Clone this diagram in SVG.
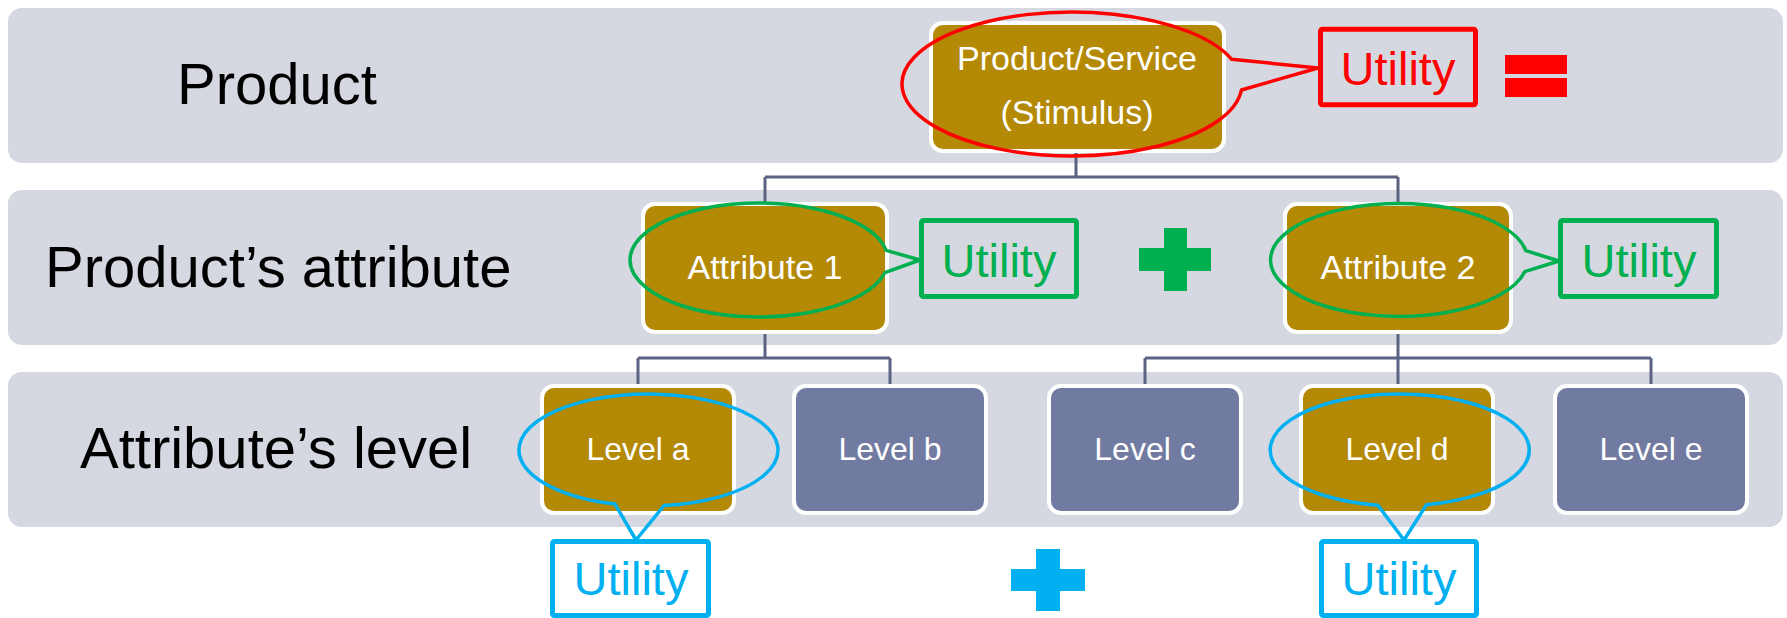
<svg xmlns="http://www.w3.org/2000/svg" width="1787" height="618" viewBox="0 0 1787 618">
  <style>
    .band { fill: #d5d8e1; }
    .rowlabel { font-family: "Liberation Sans", Arial, sans-serif; font-size: 58px; fill: #000; }
    .gold { fill: #b38905; stroke: #fff; stroke-width: 4; }
    .slate { fill: #717aa0; stroke: #fff; stroke-width: 4; }
    .ntext { font-family: "Liberation Sans", Arial, sans-serif; fill: #fff; text-anchor: middle; }
    .big { font-size: 34px; }
    .lvl { font-size: 32px; }
    .conn { fill: none; stroke: #5b6282; stroke-width: 3; }
    .util { font-family: "Liberation Sans", Arial, sans-serif; font-size: 47px; text-anchor: middle; }
    .box { fill: none; stroke-width: 5; stroke-linejoin: round; }
    .callout { fill: none; stroke-width: 3.5; stroke-linejoin: round; }
    .red { stroke: #ff0000; }
    .green { stroke: #00b050; }
    .blue { stroke: #00b0f0; }
  </style>

  <!-- background rows -->
  <g id="rows">
    <rect class="band" x="8" y="8" width="1775" height="155" rx="14"/>
    <rect class="band" x="8" y="190" width="1775" height="155" rx="14"/>
    <rect class="band" x="8" y="372" width="1775" height="155" rx="14"/>
    <text class="rowlabel" x="177" y="104">Product</text>
    <text class="rowlabel" x="45" y="287">Product’s attribute</text>
    <text class="rowlabel" x="80" y="468">Attribute’s level</text>
  </g>

  <!-- tree connectors -->
  <g id="connectors">
    <path class="conn" d="M1076 152 V177 M765 177 H1398 M765 177 V203 M1398 177 V203"/>
    <path class="conn" d="M765 333 V358 M638 358 H890 M638 358 V385 M890 358 V385"/>
    <path class="conn" d="M1398 333 V358 M1145 358 H1651 M1145 358 V385 M1398 358 V385 M1651 358 V385"/>
  </g>

  <g id="product">
    <rect class="gold" x="931" y="23" width="293" height="128" rx="12"/>
    <text class="ntext big" x="1077" y="70">Product/Service</text>
    <text class="ntext big" x="1077" y="124">(Stimulus)</text>
  </g>

  <g id="attribute1">
    <rect class="gold" x="643" y="204" width="244" height="128" rx="12"/>
    <text class="ntext big" x="765" y="279">Attribute 1</text>
  </g>
  <g id="attribute2">
    <rect class="gold" x="1285" y="204" width="226" height="128" rx="12"/>
    <text class="ntext big" x="1398" y="279">Attribute 2</text>
  </g>

  <g id="level-a">
    <rect class="gold" x="542" y="386" width="192" height="127" rx="12"/>
    <text class="ntext lvl" x="638" y="460">Level a</text>
  </g>
  <g id="level-b">
    <rect class="slate" x="794" y="386" width="192" height="127" rx="12"/>
    <text class="ntext lvl" x="890" y="460">Level b</text>
  </g>
  <g id="level-c">
    <rect class="slate" x="1049" y="386" width="192" height="127" rx="12"/>
    <text class="ntext lvl" x="1145" y="460">Level c</text>
  </g>
  <g id="level-d">
    <rect class="gold" x="1301" y="386" width="192" height="127" rx="12"/>
    <text class="ntext lvl" x="1397" y="460">Level d</text>
  </g>
  <g id="level-e">
    <rect class="slate" x="1555" y="386" width="192" height="127" rx="12"/>
    <text class="ntext lvl" x="1651" y="460">Level e</text>
  </g>

  <!-- total utility (red) -->
  <g id="utility-total">
    <path class="callout red" d="M1231.7 59.3 A170 72 0 1 0 1241.4 90 L1318 68 Z"/>
    <rect class="box red" x="1320.5" y="29.2" width="155" height="75.6" rx="2"/>
    <text class="util" x="1398" y="85" fill="#ff0000">Utility</text>
    <rect x="1505" y="55" width="62" height="19" fill="#ff0000"/>
    <rect x="1505" y="78" width="62" height="19" fill="#ff0000"/>
  </g>

  <!-- attribute utilities (green) -->
  <g id="utility-attr1">
    <path class="callout green" d="M886.2 250.4 A129 57 0 1 0 884.8 272.7 L920 260 Z"/>
    <rect class="box green" x="921.5" y="220.5" width="155" height="76" rx="2"/>
    <text class="util" x="999" y="277" fill="#00b050">Utility</text>
  </g>
  <g id="plus-green">
    <rect x="1139" y="248" width="72" height="23" fill="#00b050"/>
    <rect x="1164" y="228" width="23" height="63" fill="#00b050"/>
  </g>
  <g id="utility-attr2">
    <path class="callout green" d="M1525.8 250.7 A128.5 56.5 0 1 0 1524.7 271.7 L1559 261 Z"/>
    <rect class="box green" x="1560.5" y="220.5" width="156" height="76" rx="2"/>
    <text class="util" x="1639" y="277" fill="#00b050">Utility</text>
  </g>

  <!-- level utilities (blue) -->
  <g id="utility-level-a">
    <path class="callout blue" d="M664 505.6 A129.5 56 0 1 0 615 504.1 L636 540 Z"/>
    <rect class="box blue" x="552.5" y="541.5" width="156" height="74" rx="2"/>
    <text class="util" x="631" y="595" fill="#00b0f0">Utility</text>
  </g>
  <g id="plus-blue">
    <rect x="1011" y="569" width="74" height="22" fill="#00b0f0"/>
    <rect x="1036" y="549" width="24" height="62" fill="#00b0f0"/>
  </g>
  <g id="utility-level-d">
    <path class="callout blue" d="M1426.5 504.8 A129.5 56 0 1 0 1377.8 505.2 L1404 540 Z"/>
    <rect class="box blue" x="1321.5" y="541.5" width="155" height="74" rx="2"/>
    <text class="util" x="1399" y="595" fill="#00b0f0">Utility</text>
  </g>
</svg>
